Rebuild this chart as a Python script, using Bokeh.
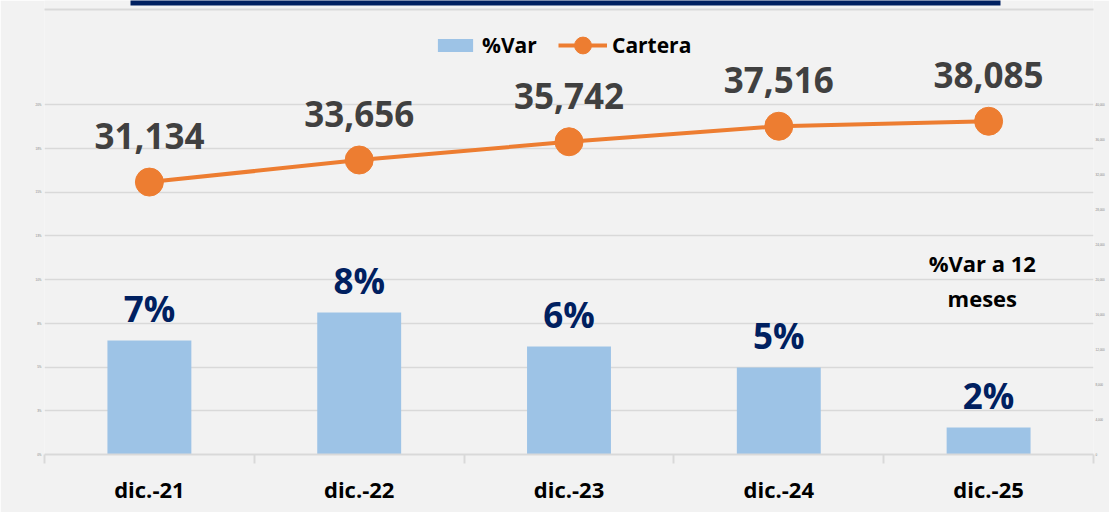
from bokeh.plotting import figure
from bokeh.models import (Range1d, LinearAxis, FixedTicker, Legend, LegendItem,
                          Label, BoxAnnotation, NumeralTickFormatter, ColumnDataSource)
from bokeh.core.properties import value
from bokeh.embed import file_html
from bokeh.resources import INLINE

# ---- data ----
categories = ["dic.-21", "dic.-22", "dic.-23", "dic.-24", "dic.-25"]
var_values = [0.0651, 0.0811, 0.0617, 0.0497, 0.0154]
var_labels = ["7%", "8%", "6%", "5%", "2%"]
cartera_values = [31134, 33656, 35742, 37516, 38085]
left_ticks = [0, 0.025, 0.05, 0.075, 0.1, 0.125, 0.15, 0.175, 0.2]
right_ticks = [0, 4000, 8000, 12000, 16000, 20000, 24000, 28000, 32000, 36000, 40000]
note_lines = ["%Var a 12", "meses"]

FONT = "Open Sans"
BG = "#f2f2f2"
GRID = "#d9d9d9"

xs = [i + 0.5 for i in range(len(categories))]
src = ColumnDataSource(dict(
    x=xs, var=var_values, var_lbl=var_labels,
    cart=cartera_values, cart_lbl=[f"{v:,}" for v in cartera_values],
))

# frame: canvas y 0 (top) .. 454 (bottom, value 0); 0.2 sits at y 104
left_top = 0.2 * 454 / 350
right_top = 40000 * 454 / 350

p = figure(width=1109, height=512, output_backend="svg", toolbar_location=None,
           x_range=Range1d(0, len(categories)), y_range=Range1d(0, left_top),
           min_border_left=44, min_border_right=16, min_border_top=0, min_border_bottom=58)
p.extra_y_ranges = {"right": Range1d(0, right_top)}
p.background_fill_color = BG
p.border_fill_color = BG
p.outline_line_color = None

# outer light frame edges and navy title strip (canvas units)
def canvas_box(l, r, t, b, color):
    return BoxAnnotation(left=l, right=r, top=t, bottom=b,
                         left_units="canvas", right_units="canvas",
                         top_units="canvas", bottom_units="canvas",
                         fill_color=color, fill_alpha=1, line_color=None,
                         level="overlay")

p.add_layout(canvas_box(12, 1100, 8, 10, GRID))
p.add_layout(canvas_box(11, 13, 8, 505, GRID))
p.add_layout(canvas_box(130, 1000, -2, 5, "#002060"))

# axes
xaxis = p.xaxis[0]
xaxis.ticker = FixedTicker(ticks=xs, minor_ticks=list(range(len(categories) + 1)))
xaxis.major_label_overrides = {x: c for x, c in zip(xs, categories)}
xaxis.major_tick_out = 0
xaxis.major_tick_in = 0
xaxis.minor_tick_out = 9
xaxis.minor_tick_in = 0
xaxis.minor_tick_line_color = GRID
xaxis.minor_tick_line_width = 2
xaxis.axis_line_color = GRID
xaxis.axis_line_width = 2
xaxis.major_label_text_font = FONT
xaxis.major_label_text_font_style = "bold"
xaxis.major_label_text_font_size = "22px"
xaxis.major_label_text_color = "#000000"
xaxis.major_label_standoff = 10

yaxis = p.yaxis[0]
yaxis.ticker = FixedTicker(ticks=left_ticks)
yaxis.formatter = NumeralTickFormatter(format="0%")
yaxis.axis_line_color = None
yaxis.major_tick_out = 0
yaxis.major_tick_in = 0
yaxis.minor_tick_out = 0
yaxis.minor_tick_in = 0
yaxis.major_label_text_font_size = "3px"
yaxis.major_label_text_color = "#7f7f7f"
yaxis.major_label_standoff = 3

raxis = LinearAxis(y_range_name="right", ticker=FixedTicker(ticks=right_ticks),
                   formatter=NumeralTickFormatter(format="0,0"))
raxis.axis_line_color = None
raxis.major_tick_out = 0
raxis.major_tick_in = 0
raxis.minor_tick_out = 0
raxis.minor_tick_in = 0
raxis.major_label_text_font_size = "3px"
raxis.major_label_text_color = "#7f7f7f"
raxis.major_label_standoff = 2
p.add_layout(raxis, "right")

p.xgrid.visible = False
p.ygrid.grid_line_color = GRID
p.ygrid.grid_line_width = 1.5

# bars
bars = p.vbar(x="x", top="var", width=0.4, source=src, fill_color="#9dc3e6", line_color=None)
p.text(x="x", y="var", text="var_lbl", source=src, y_offset=-32,
       text_align="center", text_baseline="middle",
       text_font=value(FONT), text_font_style="bold", text_font_size="35px",
       text_color="#002060")

# line
line = p.line(x="x", y="cart", source=src, y_range_name="right",
              line_color="#ed7d31", line_width=4)
dots = p.scatter(x="x", y="cart", source=src, y_range_name="right",
                 size=28, fill_color="#ed7d31", line_color="#ed7d31")
p.text(x="x", y="cart", text="cart_lbl", source=src, y_range_name="right", y_offset=-46,
       text_align="center", text_baseline="middle",
       text_font=value(FONT), text_font_style="bold", text_font_size="35px",
       text_color="#404040")

# note
for i, t in enumerate(note_lines):
    p.add_layout(Label(x=4.47, y=0.1097 - 0.02 * i, text=t, text_align="center",
                       text_baseline="middle", text_font=FONT, text_font_style="bold",
                       text_font_size="22px", text_color="#000000"))

# legends
def style_legend(lg):
    lg.background_fill_alpha = 0
    lg.border_line_color = None
    lg.padding = 0
    lg.margin = 0
    lg.label_text_font = FONT
    lg.label_text_font_style = "bold"
    lg.label_text_font_size = "21px"
    lg.label_text_color = "#000000"
    lg.label_standoff = 5
    lg.label_height = 16

lg1 = Legend(items=[LegendItem(label="%Var", renderers=[bars])],
             location=(389, 395), glyph_width=44, glyph_height=16)
style_legend(lg1)
lg2 = Legend(items=[LegendItem(label="Cartera", renderers=[line, dots])],
             location=(514, 388), glyph_width=49, glyph_height=42)
style_legend(lg2)
p.add_layout(lg1)
p.add_layout(lg2)

open("out.html", "w").write(file_html(p, INLINE))
